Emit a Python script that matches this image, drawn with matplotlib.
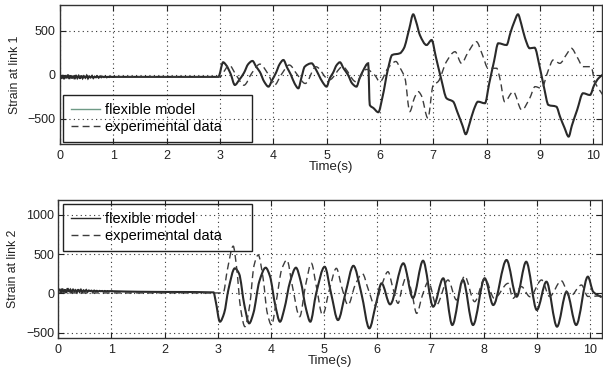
import numpy as np
import matplotlib
matplotlib.use("Agg")
import matplotlib.pyplot as plt
from matplotlib.path import Path
from matplotlib.patches import PathPatch
from matplotlib.lines import Line2D

plt.rcParams['font.family'] = ['Liberation Sans', 'DejaVu Sans']

# ---------------- link 1 strain ----------------
# sensor noise at start-up, sampled evenly over 0..1 s
link1_noise = [-20, -45, -5, -50, -10, -40, 0, -48, -8, -42, -12, -50, -5, -38,
               -15, -45, -10, -40, -18, -35, -12, -42, -20, -32, -15, -38, -22,
               -30, -18, -34, -20, -30, -22, -28, -20, -30, -24, -27, -23, -26, -25]
link1_model_t = [1.5, 2.97, 3.06, 3.12, 3.20, 3.28, 3.36, 3.45, 3.53, 3.61, 3.68,
                 3.75, 3.83, 3.91, 3.98, 4.05, 4.12, 4.19, 4.26, 4.33, 4.40, 4.47,
                 4.53, 4.59, 4.72, 4.79, 4.85, 4.93, 5.00, 5.06, 5.12, 5.19, 5.25,
                 5.32, 5.40, 5.48, 5.56, 5.62, 5.68, 5.78, 5.81, 5.88, 5.97, 6.05,
                 6.15, 6.23, 6.375, 6.45, 6.55, 6.625, 6.68, 6.75, 6.875, 6.97,
                 7.05, 7.15, 7.25, 7.375, 7.45, 7.55, 7.61, 7.68, 7.76, 7.84, 7.97,
                 8.05, 8.14, 8.22, 8.375, 8.45, 8.52, 8.59, 8.65, 8.72, 8.81, 8.90,
                 9.00, 9.08, 9.16, 9.31, 9.38, 9.46, 9.54, 9.60, 9.70, 9.81, 9.94,
                 10.02, 10.10, 10.18]
link1_model_v = [-25, -25, 141, 105, 10, -117, -60, 20, 120, 156, 90,
                 30, -80, -136, -60, 20, 120, 167, 80, 0, -100, -155,
                 -30, 91, 129, 70, 0, -90, -136, -40, 20, 110, 141,
                 70, 0, -100, -136, -40, 40, 129, -344, -380, -427, -250,
                 60, 224, 243, 300, 520, 686, 600, 450, 337, 394,
                 200, -50, -268, -307, -420, -580, -677, -560, -400, -307, -325,
                 -100, 150, 357, 337, 480, 600, 686, 580, 420, 300, 307,
                 80, -150, -344, -364, -480, -600, -704, -580, -400, -211, -231,
                 -117, -41, 0]
link1_exp_t = [0, 3.0, 3.08, 3.17, 3.30, 3.45, 3.60, 3.75, 3.90, 4.02, 4.15, 4.30,
               4.45, 4.60, 4.80, 5.05, 5.30, 5.55, 5.75, 5.90, 6.00, 6.15, 6.30,
               6.375, 6.47, 6.56, 6.65, 6.72, 6.78, 6.90, 7.00, 7.09, 7.25, 7.41,
               7.53, 7.65, 7.81, 7.92, 8.03, 8.19, 8.25, 8.34, 8.50, 8.66, 8.81,
               8.91, 9.03, 9.16, 9.25, 9.375, 9.50, 9.59, 9.70, 9.81, 9.96, 10.03,
               10.18]
link1_exp_v = [-25, -25, 40, 110, 0, -120, 20, 120, 10, -120, 0, 110,
               0, -100, 90, -60, 90, -80, 60, -3, -80, 73, 150,
               80, -41, -420, -260, -193, -240, -495, -117, -80, 150, 261,
               129, 250, 375, 230, 73, 73, -41, -307, -193, -401, -268,
               -136, -155, 53, 167, 129, 230, 300, 200, 91, 91, -80,
               -230]

# ---------------- link 2 strain ----------------
link2_noise = [30, 55, 10, 60, 15, 50, 5, 65, 20, 45, 10, 55, 25, 40, 15, 50, 20,
               45, 18, 38, 25, 42, 20, 36, 28, 34, 22, 35, 26, 32, 24, 31, 27, 30,
               25, 30, 26, 29, 27, 28, 27]
link2_model_t = [1.5, 2.92, 2.96, 3.04, 3.12, 3.20, 3.32, 3.40, 3.50, 3.59, 3.67,
                 3.78, 3.90, 3.98, 4.08, 4.17, 4.25, 4.36, 4.47, 4.56, 4.66, 4.74,
                 4.85, 5.01, 5.13, 5.26, 5.40, 5.55, 5.70, 5.85, 5.97, 6.08, 6.24,
                 6.49, 6.67, 6.86, 7.05, 7.24, 7.41, 7.61, 7.80, 8.02, 8.18, 8.43,
                 8.62, 8.80, 9.00, 9.18, 9.38, 9.56, 9.74, 9.96, 10.06, 10.22]
link2_model_v = [20, 12, -100, -361, -250, 50, 318, 250, -150, -382, -250,
                 150, 326, 220, -150, -361, -200, 150, 326, 150, -200, -361,
                 0, 338, 0, -340, 0, 350, 0, -445, -150, 127, -140,
                 382, -60, 415, -170, 191, -403, 170, -403, 191, -149, 424,
                 -43, 402, -212, 148, -424, 20, -403, 212, 20, -50]
link2_exp_t = [0, 3.10, 3.18, 3.29, 3.35, 3.43, 3.51, 3.60, 3.68, 3.76, 3.85,
               3.93, 4.01, 4.10, 4.20, 4.30, 4.40, 4.54, 4.65, 4.76, 4.85, 4.97,
               5.10, 5.23, 5.33, 5.45, 5.58, 5.72, 5.83, 5.95, 6.08, 6.20, 6.30,
               6.39, 6.47, 6.55, 6.65, 6.74, 6.85, 6.96, 7.11, 7.33, 7.49, 7.64,
               7.83, 8.02, 8.20, 8.46, 8.55, 8.71, 8.87, 9.09, 9.24, 9.46, 9.62,
               9.84, 9.96, 10.22]
link2_exp_v = [5, 5, 300, 600, 350, -200, -424, -150, 350, 487, 200,
               -250, -403, -100, 300, 424, 100, -297, 100, 382, 100, -276,
               50, 318, 80, -149, 100, 250, 50, -149, 100, 275, 50,
               -127, 80, 220, 0, -255, -20, 148, -149, 170, -85, 220,
               -106, 191, -64, 127, -64, 85, -43, 170, -40, 160, -43,
               106, -40, -30]

x_ticks = [0, 1, 2, 3, 4, 5, 6, 7, 8, 9, 10]
link1_yticks = [-500, 0, 500]
link2_yticks = [-500, 0, 500, 1000]
legend_labels = ["flexible model", "experimental data"]

W, H = 603, 368
fig = plt.figure(figsize=(W / 100, H / 100), dpi=100)
fig.patch.set_facecolor("white")

ax1 = fig.add_axes([60 / W, 1 - 144 / H, 541.7 / W, 139 / H])
ax2 = fig.add_axes([58.3 / W, 1 - 338.3 / H, 543.4 / W, 138.3 / H])

model_color = "#2a2a2a"
exp_color = "#3c3c3c"
fs = 9
dashes = (0, (5, 3))


def smooth_path(t, v):
    """Monotone cubic Bezier path through the given samples (no overshoot)."""
    t = np.asarray(t, float)
    v = np.asarray(v, float)
    h = np.diff(t)
    d = np.diff(v) / h
    m = np.zeros_like(v)
    m[0], m[-1] = d[0], d[-1]
    for k in range(1, len(v) - 1):
        if d[k - 1] * d[k] > 0:
            w1 = 2 * h[k] + h[k - 1]
            w2 = h[k] + 2 * h[k - 1]
            m[k] = (w1 + w2) / (w1 / d[k - 1] + w2 / d[k])
    verts = [(t[0], v[0])]
    codes = [Path.MOVETO]
    for k in range(len(v) - 1):
        verts += [(t[k] + h[k] / 3, v[k] + m[k] * h[k] / 3),
                  (t[k + 1] - h[k] / 3, v[k + 1] - m[k + 1] * h[k] / 3),
                  (t[k + 1], v[k + 1])]
        codes += [Path.CURVE4] * 3
    return Path(verts, codes)


def draw_trace(ax, noise, t_rest, v_rest, **kw):
    if noise is not None:
        tn = np.linspace(0, 1.0, len(noise))
        ax.plot(tn, noise, color=kw["color"], lw=kw["lw"], solid_joinstyle="miter")
        t_rest = [1.0] + list(t_rest)
        v_rest = [noise[-1]] + list(v_rest)
    patch = PathPatch(smooth_path(t_rest, v_rest), fill=False,
                      edgecolor=kw["color"], lw=kw["lw"],
                      linestyle=kw.get("ls", "-"))
    ax.add_patch(patch)


def style_axes(ax, yticks, ylim, xlim, ylabel, xlabel_y):
    ax.set_xlim(*xlim)
    ax.set_ylim(*ylim)
    ax.set_xticks(x_ticks)
    ax.set_yticks(yticks)
    ax.tick_params(direction="in", length=4, width=0.8, top=True, right=True,
                   labelsize=fs, colors="#222222")
    ax.tick_params(axis="x", pad=4)
    ax.tick_params(axis="y", pad=3)
    ax.grid(True, color="#333333", linestyle=(0, (1, 3)), linewidth=0.8)
    for s in ax.spines.values():
        s.set_linewidth(1.0)
        s.set_color("#333333")
    ax.set_xlabel("Time(s)", fontsize=9.5, color="#222222", va="center")
    ax.xaxis.set_label_coords(0.5, xlabel_y)
    ax.set_ylabel(ylabel, fontsize=8.8, color="#222222", va="center")
    ax.yaxis.set_label_coords(-0.083, 0.5)


def add_legend(ax, first_color, loc, anchor):
    handles = [Line2D([], [], color=first_color, lw=1.0),
               Line2D([], [], color=exp_color, lw=1.0, linestyle=dashes)]
    leg = ax.legend(handles, legend_labels, loc=loc, bbox_to_anchor=anchor,
                    mode="expand", borderaxespad=0, fontsize=10.5,
                    frameon=True, fancybox=False, edgecolor="#222222",
                    handlelength=2.0, handletextpad=0.35, labelspacing=0.2,
                    borderpad=0.55)
    frame = leg.get_frame()
    frame.set_facecolor("none")
    frame.set_alpha(None)
    frame.set_edgecolor("#222222")
    frame.set_linewidth(1.0)
    return leg


# link 1
draw_trace(ax1, link1_noise, link1_model_t, link1_model_v, color=model_color, lw=1.5)
draw_trace(ax1, None, link1_exp_t, link1_exp_v, color=exp_color, lw=1.0, ls=dashes)
style_axes(ax1, link1_yticks, (-788, 792), (0, 10.16), "Strain at link 1", -0.165)
add_legend(ax1, "#6f9a86", "lower left", (0.0055, 0.014, 0.349, 0.35))

# link 2
draw_trace(ax2, link2_noise, link2_model_t, link2_model_v, color=model_color, lw=1.5)
draw_trace(ax2, None, link2_exp_t, link2_exp_v, color=exp_color, lw=1.0, ls=dashes)
style_axes(ax2, link2_yticks, (-572, 1187), (0, 10.22), "Strain at link 2", -0.165)
add_legend(ax2, model_color, "upper left", (0.008, 0.621, 0.348, 0.35))

fig.savefig("out.png", dpi=100)
